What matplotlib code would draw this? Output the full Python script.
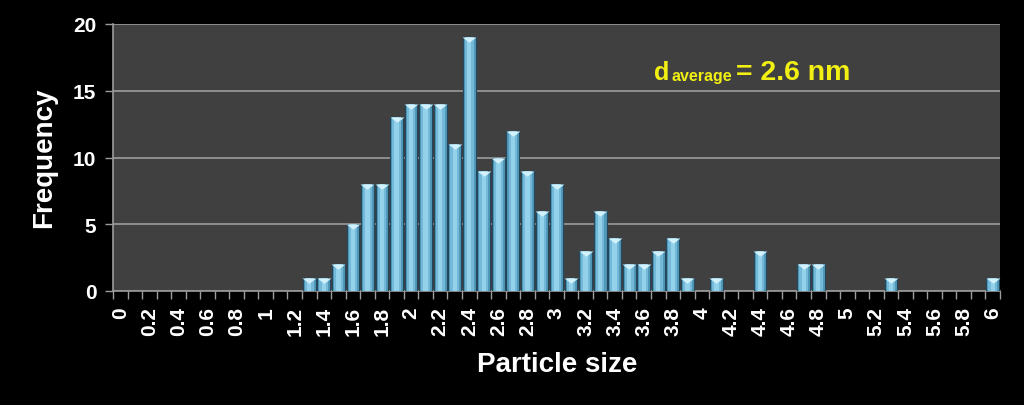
import matplotlib
matplotlib.use("Agg")
import matplotlib.pyplot as plt
import numpy as np

# particle size classes 0.0 .. 6.0 nm in 0.1 steps
sizes = [round(0.1 * i, 1) for i in range(61)]
counts_nonzero = {
    1.3: 1, 1.4: 1, 1.5: 2, 1.6: 5, 1.7: 8, 1.8: 8, 1.9: 13,
    2.0: 14, 2.1: 14, 2.2: 14, 2.3: 11, 2.4: 19, 2.5: 9, 2.6: 10,
    2.7: 12, 2.8: 9, 2.9: 6, 3.0: 8, 3.1: 1, 3.2: 3, 3.3: 6,
    3.4: 4, 3.5: 2, 3.6: 2, 3.7: 3, 3.8: 4, 3.9: 1, 4.1: 1,
    4.4: 3, 4.7: 2, 4.8: 2, 5.3: 1, 6.0: 1,
}
counts = [counts_nonzero.get(s, 0) for s in sizes]
yticks = [0, 5, 10, 15, 20]

BG = "black"
PLOT_BG = "#404040"
GRID = "#9c9c9c"
FONT = ["Liberation Sans", "DejaVu Sans"]

plt.rcParams["font.family"] = FONT
plt.rcParams["font.weight"] = "bold"

fig = plt.figure(figsize=(10.24, 4.06), dpi=100, facecolor=BG)
ax = fig.add_axes([113 / 1024, 1 - 292 / 406, 887 / 1024, 267 / 406])
ax.set_facecolor(PLOT_BG)

x = np.arange(len(sizes))
counts = np.array(counts)

# cylinder-ish bars: dark base, lighter core, highlight
ax.bar(x, counts, width=0.88, color="#5298b9", edgecolor="#23475c", linewidth=0.8, zorder=3)
ax.bar(x, counts, width=0.6, color="#74b9d8", linewidth=0, zorder=4)
ax.bar(x, counts, width=0.3, color="#94d2ec", linewidth=0, zorder=5)

# bevel triangle at top of each bar
tri = [(-1, 0), (1, 0), (0, -0.75)]
mask = counts > 0
ax.scatter(x[mask], counts[mask], marker=tri, s=100, color="#d2f1fb",
           linewidths=0, zorder=6)

ax.set_xlim(-0.5, len(sizes) - 0.5)
ax.set_ylim(0, 20)
ax.set_yticks(yticks)
ax.set_yticklabels([str(v) for v in yticks], fontsize=15, color="white", fontweight="bold")
ax.yaxis.grid(True, color=GRID, linewidth=1.2, zorder=1)
ax.set_axisbelow(True)

labels = [f"{s:g}" for s in sizes]
ax.set_xticks(x[::2])
ax.set_xticklabels(labels[::2], rotation=90, fontsize=15, color="white", fontweight="bold")
ax.set_xticks(np.arange(len(sizes) + 1) - 0.5, minor=True)
ax.tick_params(axis="x", which="major", length=0, pad=11)
ax.tick_params(axis="x", which="minor", length=6, color=GRID, width=1)
ax.tick_params(axis="y", length=6, color=GRID, width=1, pad=6)

for side in ["top", "right"]:
    ax.spines[side].set_visible(False)
for side in ["left", "bottom"]:
    ax.spines[side].set_color(GRID)
    ax.spines[side].set_linewidth(1.2)

fig.text(44 / 1024, 1 - 158 / 406, "Frequency", rotation=90, fontsize=20,
         fontweight="bold", color="white", ha="center", va="center")
fig.text(557 / 1024, 1 - 372 / 406, "Particle size", fontsize=20,
         fontweight="bold", color="white", ha="center", va="baseline")

# d_average annotation
YEL = "#f2ef12"
base_y = 1 - 80 / 406
fig.text(654 / 1024, base_y, "d", fontsize=18, fontweight="bold", color=YEL, va="baseline")
fig.text(672 / 1024, base_y - 1 / 406, "average", fontsize=11.5, fontweight="bold", color=YEL, va="baseline")
fig.text(736 / 1024, base_y, "= 2.6 nm", fontsize=20.5, fontweight="bold", color=YEL, va="baseline")

fig.savefig("out.png", dpi=100, facecolor=BG)
